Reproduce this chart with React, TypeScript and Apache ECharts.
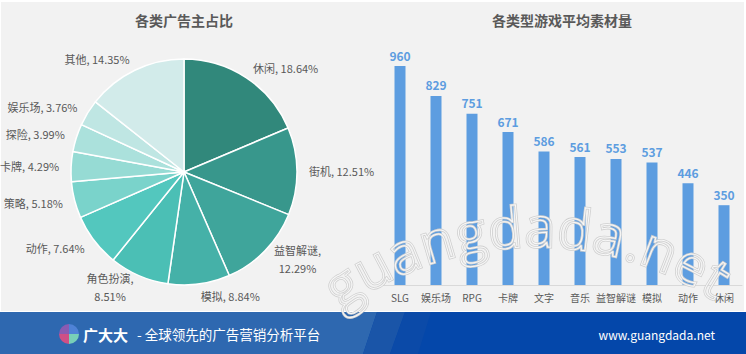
import React, { useEffect, useRef } from 'react';
import * as echarts from 'echarts';

const pieNames = ['休闲', '街机', '益智解谜', '模拟', '角色扮演', '动作', '策略', '卡牌', '探险', '娱乐场', '其他'];
const pieValues = [18.64, 12.51, 12.29, 8.84, 8.51, 7.64, 5.18, 4.29, 3.99, 3.76, 14.35];
const pieColors = ['#31887b', '#38978c', '#3fa59b', '#45b1a8', '#4bbfb5', '#53c7be', '#7ad3cb', '#96dbd4', '#abe1dc', '#bfe6e3', '#d2ebea'];

const barCategories = ['SLG', '娱乐场', 'RPG', '卡牌', '文字', '音乐', '益智解谜', '模拟', '动作', '休闲'];
const barValues = [960, 829, 751, 671, 586, 561, 553, 537, 446, 350];

const pieTitle = '各类广告主占比';
const barTitle = '各类型游戏平均素材量';
const brandName = '广大大';
const brandSlogan = '- 全球领先的广告营销分析平台';
const brandUrl = 'www.guangdada.net';
const watermarkText = 'guangdada.net';

const FONT = '"Noto Sans CJK SC", "Noto Sans", sans-serif';

function buildWatermark() {
  const chars = watermarkText.split('');
  const w = chars.map((c) => (c === '.' ? 0.3 : c === 't' ? 0.36 : 0.58));
  const centers: number[] = [];
  let acc = 0;
  w.forEach((wi) => {
    centers.push(acc + wi / 2);
    acc += wi;
  });
  const first = centers[0];
  const last = centers[centers.length - 1];
  const a0 = (-33.7 * Math.PI) / 180;
  const a1 = (31.5 * Math.PI) / 180;
  const cx = 535;
  const cy = 575;
  const R = 350;
  const els: any[] = [];
  chars.forEach((c, i) => {
    const t = (centers[i] - first) / (last - first);
    const th = a0 + (a1 - a0) * t;
    const x = cx + R * Math.sin(th);
    const y = cy - R * Math.cos(th);
    const base = {
      type: 'text',
      x,
      y,
      rotation: -th,
      silent: true,
    };
    const font = '56px "Open Sans", sans-serif';
    els.push({
      ...base,
      z: 100,
      style: {
        text: c,
        font,
        lineHeight: 40,
        fill: 'rgba(0,0,0,0)',
        stroke: '#cfcfcf',
        lineWidth: 2.6,
        textAlign: 'center',
        textVerticalAlign: 'middle',
      },
    });
    els.push({
      ...base,
      z: 101,
      style: {
        text: c,
        font,
        lineHeight: 40,
        fill: 'rgba(0,0,0,0)',
        stroke: '#f8f8f8',
        lineWidth: 1,
        textAlign: 'center',
        textVerticalAlign: 'middle',
      },
    });
  });
  return els;
}

export default function App() {
  const ref = useRef<HTMLDivElement>(null);

  useEffect(() => {
    document.body.style.margin = '0';
    if (!ref.current) return;
    const chart = echarts.init(ref.current, null, { renderer: 'svg' });

    const logoCx = 69;
    const logoCy = 334;
    const logoR = 10;
    const PI = Math.PI;

    const option: any = {
      animation: false,
      backgroundColor: '#ffffff',
      graphic: [
        { type: 'rect', z: -10, silent: true, shape: { x: 1, y: 2, width: 743, height: 309 }, style: { fill: '#f2f2f2' } },
        // footer band
        { type: 'rect', z: -10, silent: true, shape: { x: 0, y: 312, width: 746, height: 42 }, style: { fill: '#0447aa' } },
        { type: 'polygon', z: -9, silent: true, shape: { points: [[0, 312], [377, 312], [363, 354], [0, 354]] }, style: { fill: '#2e68b0' } },
        { type: 'polygon', z: -9, silent: true, shape: { points: [[377, 312], [405, 312], [390, 354], [363, 354]] }, style: { fill: '#1a55a8' } },
        { type: 'polygon', z: -9, silent: true, shape: { points: [[405, 312], [431, 312], [418, 354], [390, 354]] }, style: { fill: '#0b4aa8' } },
        // logo
        { type: 'sector', silent: true, shape: { cx: logoCx, cy: logoCy, r: logoR, r0: 0, startAngle: -PI / 2, endAngle: 0 }, style: { fill: '#4f82d6' } },
        { type: 'sector', silent: true, shape: { cx: logoCx, cy: logoCy, r: logoR, r0: 0, startAngle: 0, endAngle: PI / 2 }, style: { fill: '#78cfb8' } },
        { type: 'sector', silent: true, shape: { cx: logoCx, cy: logoCy, r: logoR, r0: 0, startAngle: PI / 2, endAngle: PI }, style: { fill: '#cf4f86' } },
        { type: 'sector', silent: true, shape: { cx: logoCx, cy: logoCy, r: logoR, r0: 0, startAngle: PI, endAngle: (3 * PI) / 2 }, style: { fill: '#8a5bb2' } },
        {
          type: 'text', silent: true, x: 83, y: 334,
          style: { text: brandName, font: `bold 15px ${FONT}`, fill: '#ffffff', textAlign: 'left', textVerticalAlign: 'middle' },
        },
        {
          type: 'text', silent: true, x: 137, y: 334,
          style: { text: brandSlogan, font: `13.5px ${FONT}`, fill: '#ffffff', textAlign: 'left', textVerticalAlign: 'middle' },
        },
        {
          type: 'text', silent: true, x: 715, y: 334,
          style: { text: brandUrl, font: `12px ${FONT}`, fill: '#ffffff', textAlign: 'right', textVerticalAlign: 'middle' },
        },
        // titles
        {
          type: 'text', silent: true, x: 184, y: 20,
          style: { text: pieTitle, font: `bold 14px ${FONT}`, fill: '#595959', textAlign: 'center', textVerticalAlign: 'middle' },
        },
        {
          type: 'text', silent: true, x: 562, y: 20,
          style: { text: barTitle, font: `bold 14px ${FONT}`, fill: '#595959', textAlign: 'center', textVerticalAlign: 'middle' },
        },
        ...buildWatermark(),
      ],
      grid: { left: 382, right: 4, top: 57, bottom: 69 },
      xAxis: {
        type: 'category',
        data: barCategories,
        axisLine: { show: true, lineStyle: { color: '#d9d9d9', width: 1 } },
        axisTick: { show: false },
        axisLabel: { color: '#595959', fontSize: 10, fontFamily: FONT, margin: 7, interval: 0 },
      },
      yAxis: { type: 'value', min: 0, max: 1000, show: false, splitLine: { show: false } },
      series: [
        {
          type: 'pie',
          center: [184, 172],
          radius: 113,
          startAngle: 90,
          clockwise: true,
          avoidLabelOverlap: false,
          silent: true,
          itemStyle: { borderColor: '#ffffff', borderWidth: 1.5 },
          label: {
            show: true,
            position: 'outside',
            color: '#595959',
            fontSize: 11,
            fontFamily: FONT,
            lineHeight: 18,
            distanceToLabelLine: 0,
            formatter: (p: any) =>
              p.name.length >= 4 ? `{w|${p.name},}\n{w|${p.value}%}` : `${p.name}, ${p.value}%`,
            rich: {
              w: { width: 48, align: 'center', color: '#595959', fontSize: 11, fontFamily: FONT, lineHeight: 18 },
            },
          },
          labelLine: { show: false, length: 12, length2: 0 },
          data: pieNames.map((n, i) => ({ name: n, value: pieValues[i], itemStyle: { color: pieColors[i] } })),
        },
        {
          type: 'bar',
          barWidth: 11,
          silent: true,
          itemStyle: { color: '#5d9de0' },
          label: {
            show: true,
            position: 'top',
            distance: 5,
            color: '#5d9de0',
            fontWeight: 'bold',
            fontSize: 12,
            fontFamily: FONT,
          },
          data: barValues,
        },
      ],
    };

    chart.setOption(option);
    return () => chart.dispose();
  }, []);

  return <div ref={ref} style={{ width: 746, height: 354 }} />;
}
